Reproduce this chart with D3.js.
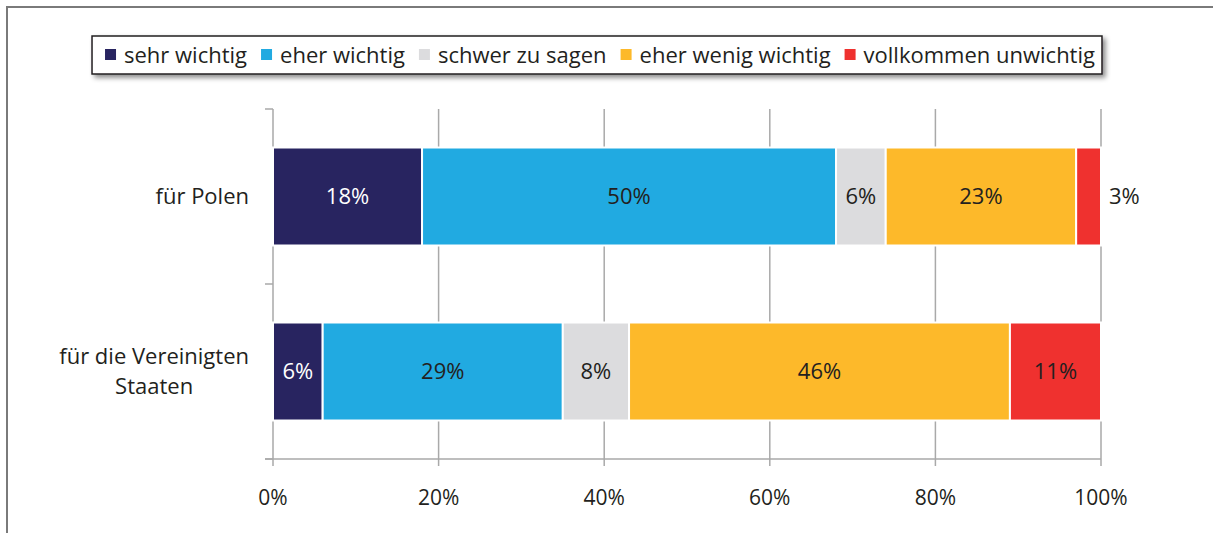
<!DOCTYPE html>
<html>
<head>
<meta charset="utf-8">
<script src="https://cdn.jsdelivr.net/npm/d3@7"></script>
<style>
  body { margin: 0; background: #fff; }
  svg { display: block; font-family: "Open Sans", sans-serif; }
</style>
</head>
<body>
<div id="chart"></div>
<script>
const categories = ["für Polen", "für die Vereinigten\nStaaten"];
const seriesNames = ["sehr wichtig", "eher wichtig", "schwer zu sagen", "eher wenig wichtig", "vollkommen unwichtig"];
const polen = [18, 50, 6, 23, 3];
const usa = [6, 29, 8, 46, 11];
const tickValues = [0, 20, 40, 60, 80, 100];

const colors = ["#282460", "#21aae1", "#dcdcde", "#fdb92a", "#ef312f"];
const labelColors = ["#fff", "#231f20", "#231f20", "#231f20", "#231f20"];
const width = 1213, height = 533;
const fontSize = 22;

const svg = d3.select("#chart").append("svg")
  .attr("width", width)
  .attr("height", height);

// drop shadow for legend
const defs = svg.append("defs");
const filter = defs.append("filter").attr("id", "shadow")
  .attr("x", "-5%").attr("y", "-40%").attr("width", "110%").attr("height", "180%");
filter.append("feDropShadow")
  .attr("dx", 3).attr("dy", 3).attr("stdDeviation", 2.5)
  .attr("flood-color", "#000").attr("flood-opacity", 0.45);

// frame (top + left only)
svg.append("path")
  .attr("d", `M7,${height} L7,7 L${width},7`)
  .attr("fill", "none")
  .attr("stroke", "#7a7a7a")
  .attr("stroke-width", 2);

const rows = categories.map((c, i) => {
  const vals = i === 0 ? polen : usa;
  let acc = 0;
  return {
    cat: c,
    segs: vals.map((v, j) => {
      const s = { cat: c, i: j, v, x0: acc, x1: acc + v };
      acc += v;
      return s;
    })
  };
});

const x = d3.scaleLinear().domain([0, 100]).range([273, 1101]);
const y = d3.scaleBand().domain(categories).range([109, 459])
  .paddingInner(0.44).paddingOuter(0.22);

const gridColor = "#a9a9a9";

// gridlines (with ticks below axis)
svg.append("g").selectAll("line")
  .data(tickValues.slice(1))
  .join("line")
  .attr("x1", d => x(d)).attr("x2", d => x(d))
  .attr("y1", 109).attr("y2", 466)
  .attr("stroke", gridColor).attr("stroke-width", 1.5);

// y axis line
svg.append("line")
  .attr("x1", x(0)).attr("x2", x(0))
  .attr("y1", 109).attr("y2", 466)
  .attr("stroke", gridColor).attr("stroke-width", 1.5);

// y axis ticks at band boundaries
const yTicks = [109, y(categories[1]) - y.step() * y.paddingInner() / 2, 459];
svg.append("g").selectAll("line")
  .data(yTicks)
  .join("line")
  .attr("x1", x(0) - 8).attr("x2", x(0))
  .attr("y1", d => d).attr("y2", d => d)
  .attr("stroke", gridColor).attr("stroke-width", 1.5);

// x axis line
svg.append("line")
  .attr("x1", x(0) - 8).attr("x2", x(100))
  .attr("y1", 459).attr("y2", 459)
  .attr("stroke", gridColor).attr("stroke-width", 1.5);

// x tick labels
svg.append("g").selectAll("text")
  .data(tickValues)
  .join("text")
  .attr("x", d => x(d))
  .attr("y", 505)
  .attr("text-anchor", "middle")
  .attr("font-size", 21)
  .attr("fill", "#231f20")
  .text(d => d + "%");

// bars
const segs = rows.flatMap(r => r.segs);
svg.append("g").selectAll("rect")
  .data(segs)
  .join("rect")
  .attr("x", d => x(d.x0))
  .attr("y", d => y(d.cat))
  .attr("width", d => x(d.x1) - x(d.x0))
  .attr("height", y.bandwidth())
  .attr("fill", d => colors[d.i])
  .attr("stroke", "#fff")
  .attr("stroke-width", 2);

// bar labels
svg.append("g").selectAll("text")
  .data(segs)
  .join("text")
  .attr("x", d => d.v < 5 ? x(d.x1) + 8 : x((d.x0 + d.x1) / 2))
  .attr("y", d => y(d.cat) + y.bandwidth() / 2)
  .attr("dy", "0.35em")
  .attr("text-anchor", d => d.v < 5 ? "start" : "middle")
  .attr("font-size", fontSize)
  .attr("fill", d => d.v < 5 ? "#231f20" : labelColors[d.i])
  .text(d => d.v + "%");

// category labels
categories.forEach(c => {
  const lines = c.split("\n");
  const cy = y(c) + y.bandwidth() / 2;
  const t = svg.append("text")
    .attr("font-size", fontSize)
    .attr("fill", "#231f20")
    .attr("text-anchor", "middle");
  lines.forEach((l, k) => {
    t.append("tspan")
      .attr("x", 0)
      .attr("y", cy + (k - (lines.length - 1) / 2) * 30)
      .attr("dy", "0.35em")
      .text(l);
  });
  const w = t.node().getBBox().width;
  t.attr("transform", `translate(${249 - w / 2},0)`);
});

// legend
const legend = svg.append("g");
const legendBox = legend.append("rect")
  .attr("fill", "#fff")
  .attr("stroke", "#231f20")
  .attr("stroke-width", 1.5)
  .attr("filter", "url(#shadow)");

let lx = 0;
const items = legend.selectAll("g.item")
  .data(seriesNames)
  .join("g").attr("class", "item");
items.each(function (d, i) {
  const g = d3.select(this);
  g.append("rect")
    .attr("x", lx).attr("y", -6)
    .attr("width", 11).attr("height", 11)
    .attr("fill", colors[i]);
  const t = g.append("text")
    .attr("x", lx + 19)
    .attr("y", 0)
    .attr("dy", "0.35em")
    .attr("font-size", fontSize)
    .attr("fill", "#231f20")
    .text(d);
  lx += 19 + t.node().getComputedTextLength() + 14;
});
const itemsW = lx - 14;
const boxW = itemsW + 13 + 7;
const boxX = (90 + 1104) / 2 - boxW / 2;
legendBox.attr("x", boxX).attr("y", 36).attr("width", boxW).attr("height", 38);
items.attr("transform", `translate(${boxX + 13},55)`);
</script>
</body>
</html>
